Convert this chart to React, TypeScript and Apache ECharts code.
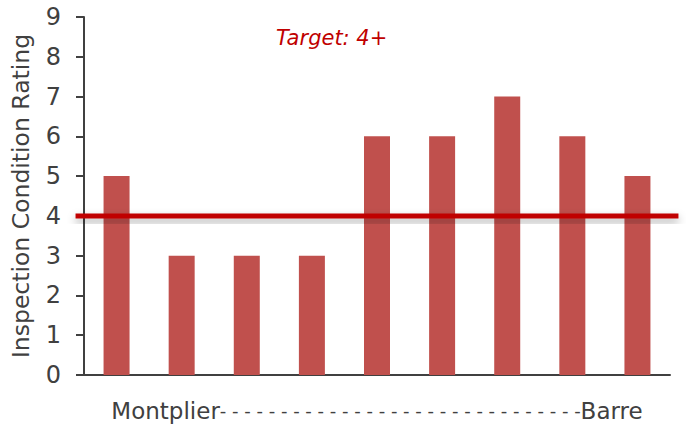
import React, { useEffect, useRef } from "react";
import * as echarts from "echarts";

const categories = ["1", "2", "3", "4", "5", "6", "7", "8", "9"];
const ratings = [5, 3, 3, 3, 6, 6, 7, 6, 5];
const yTicks = [0, 1, 2, 3, 4, 5, 6, 7, 8, 9];
const targetValue = 4;
const targetLineX = [-0.13, 9.13];
const targetLabel = "Target: 4+";
const yAxisTitle = "Inspection Condition Rating";
const xAxisStart = "Montplier";
const xAxisDashes = "-" + " -".repeat(29);
const xAxisEnd = "Barre";

export default function App() {
  const ref = useRef<HTMLDivElement>(null);
  useEffect(() => {
    if (!ref.current) return;
    const chart = echarts.init(ref.current, undefined, { renderer: "svg" });
    const font = "'DejaVu Sans', 'Liberation Sans', sans-serif";
    const axisColor = "#404040";
    chart.setOption({
      animation: false,
      textStyle: { fontFamily: font },
      title: {
        text: targetLabel,
        left: 271,
        top: 22,
        textStyle: {
          color: "#C00000",
          fontStyle: "italic",
          fontWeight: "normal",
          fontSize: 21,
          fontFamily: font,
        },
      },
      grid: { left: 84, right: 16, top: 17, bottom: 52, containLabel: false },
      xAxis: [
        {
          type: "category",
          data: categories,
          name: "{w|" + xAxisStart + "}{d|" + xAxisDashes + "}{w|" + xAxisEnd + "}",
          nameLocation: "middle",
          nameGap: 24,
          nameTextStyle: {
            color: axisColor,
            fontSize: 23,
            fontFamily: font,
            rich: {
              w: { fontSize: 23, color: axisColor, fontFamily: font, verticalAlign: "middle" },
              d: { fontSize: 18, color: axisColor, fontFamily: font, verticalAlign: "middle" },
            },
          },
          axisLine: { show: true, lineStyle: { color: axisColor, width: 2 } },
          axisTick: { show: false },
          axisLabel: { show: false },
        },
        {
          type: "value",
          min: 0,
          max: 9,
          show: false,
        },
      ],
      yAxis: {
        type: "value",
        min: yTicks[0],
        max: yTicks[yTicks.length - 1],
        interval: 1,
        name: yAxisTitle,
        nameLocation: "middle",
        nameGap: 51,
        nameTextStyle: { color: axisColor, fontSize: 23.5, fontFamily: font },
        axisLine: { show: true, lineStyle: { color: axisColor, width: 2 } },
        axisTick: { show: true, length: 8, lineStyle: { color: axisColor, width: 2 } },
        axisLabel: { color: axisColor, fontSize: 24, margin: 23, fontFamily: font },
        splitLine: { show: false },
      },
      series: [
        {
          type: "bar",
          data: ratings,
          barWidth: 26,
          itemStyle: { color: "#C0504D" },
        },
        {
          type: "custom",
          xAxisIndex: 1,
          data: [[targetLineX[0], targetLineX[1], targetValue]],
          encode: { x: [0, 1], y: 2 },
          clip: false,
          z: 5,
          renderItem: (params: any, api: any) => {
            const p0 = api.coord([api.value(0), api.value(2)]);
            const p1 = api.coord([api.value(1), api.value(2)]);
            return {
              type: "rect",
              shape: { x: p0[0], y: p0[1] - 2.5, width: p1[0] - p0[0], height: 5 },
              style: {
                fill: "#C00000",
                shadowColor: "rgba(0,0,0,0.35)",
                shadowBlur: 8,
                shadowOffsetY: 4,
              },
            };
          },
        },
      ],
    });
    return () => chart.dispose();
  }, []);
  return <div ref={ref} style={{ width: 686, height: 427, position: "absolute", left: 0, top: 0 }} />;
}
